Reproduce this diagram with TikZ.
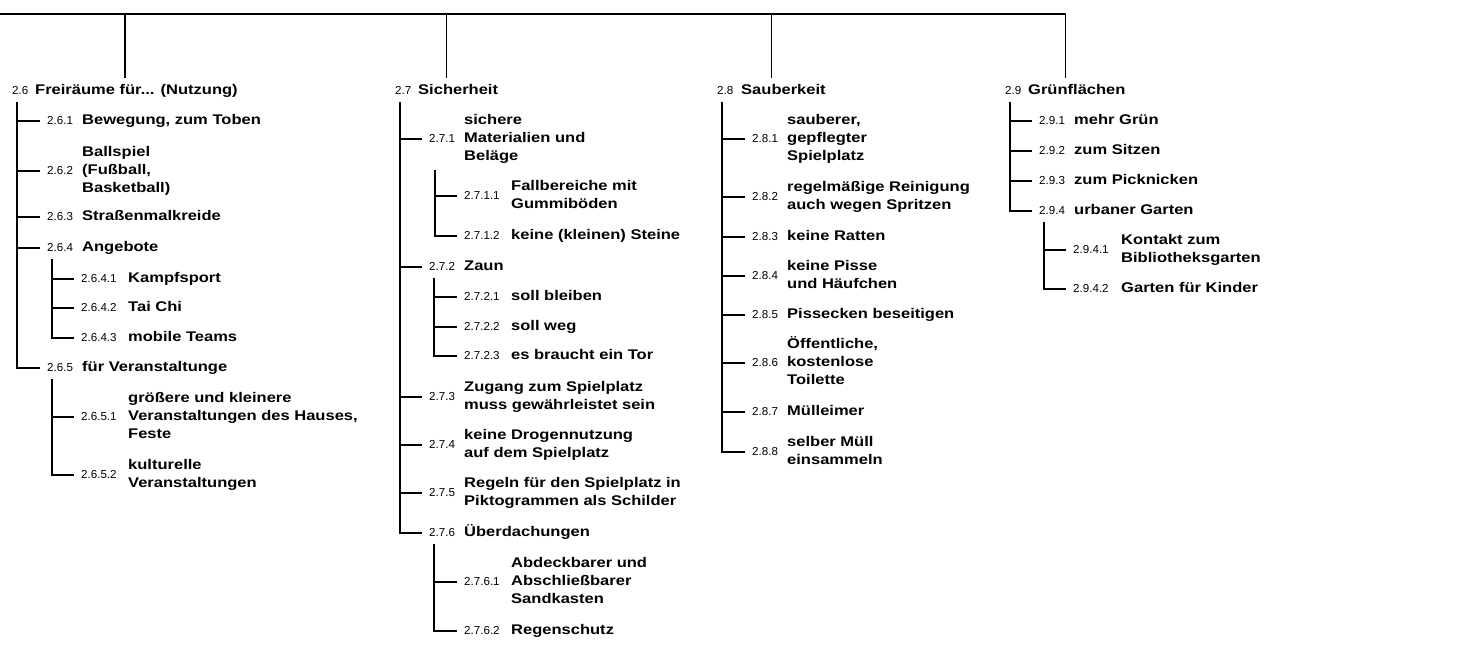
\documentclass[tikz,border=0pt]{standalone}
\usepackage{fontspec}
\usetikzlibrary{calc}
\newfontfamily\txtfont[FakeStretch=1.18]{Liberation Sans}
\newfontfamily\numfont[Scale=1.16]{Liberation Sans}
\newcommand\numsize{\numfont\fontsize{10}{18.3}\selectfont}
\newcommand\txtsize{\txtfont\bfseries\fontsize{14}{18.3}\selectfont}

% one outline entry: name, number x, text x, y, number, text
\newcommand\entry[6]{%
  \node[num] (n#1) at (#2,#4) {\numsize #5};
  \node[txt] (t#1) at (#3,#4) {\txtsize\begin{tabular}{@{}l@{}}#6\end{tabular}};}
% connector from a stem to the entry below it
\newcommand\branch[2]{\draw[link] (#1) |- ([xshift=-7pt]n#2.west);}

\begin{document}
\begin{tikzpicture}[x=1pt,y=-1pt,
  num/.style={anchor=west,inner sep=0pt,text height=12.81pt,text depth=5.49pt},
  txt/.style={anchor=west,inner sep=0pt},
  link/.style={line width=1.7pt,black}]
\useasboundingbox (0,0) rectangle (1461,653);

% ---------- 2.6 ----------
\entry{26}{12}{35}{91}{2.6}{Freiräume für... (Nutzung)}
\entry{261}{47}{82}{121}{2.6.1}{Bewegung, zum Toben}
\entry{262}{47}{82}{171}{2.6.2}{Ballspiel\\(Fußball,\\Basketball)}
\entry{263}{47}{82}{217}{2.6.3}{Straßenmalkreide}
\entry{264}{47}{82}{248}{2.6.4}{Angebote}
\entry{2641}{81}{128}{279}{2.6.4.1}{Kampfsport}
\entry{2642}{81}{128}{308}{2.6.4.2}{Tai Chi}
\entry{2643}{81}{128}{338}{2.6.4.3}{mobile Teams}
\entry{265}{47}{82}{368}{2.6.5}{für Veranstaltunge}
\entry{2651}{81}{128}{417}{2.6.5.1}{größere und kleinere\\Veranstaltungen des Hauses,\\Feste}
\entry{2652}{81}{128}{475}{2.6.5.2}{kulturelle\\Veranstaltungen}

% ---------- 2.7 ----------
\entry{27}{395}{418}{91}{2.7}{Sicherheit}
\entry{271}{429}{464}{139}{2.7.1}{sichere\\Materialien und\\Beläge}
\entry{2711}{464}{511}{196}{2.7.1.1}{Fallbereiche mit\\Gummiböden}
\entry{2712}{464}{511}{236}{2.7.1.2}{keine (kleinen) Steine}
\entry{272}{429}{464}{267}{2.7.2}{Zaun}
\entry{2721}{464}{511}{297}{2.7.2.1}{soll bleiben}
\entry{2722}{464}{511}{327}{2.7.2.2}{soll weg}
\entry{2723}{464}{511}{356}{2.7.2.3}{es braucht ein Tor}
\entry{273}{429}{464}{397}{2.7.3}{Zugang zum Spielplatz\\muss gewährleistet sein}
\entry{274}{429}{464}{445}{2.7.4}{keine Drogennutzung\\auf dem Spielplatz}
\entry{275}{429}{464}{493}{2.7.5}{Regeln für den Spielplatz in\\Piktogrammen als Schilder}
\entry{276}{429}{464}{533}{2.7.6}{Überdachungen}
\entry{2761}{464}{511}{582}{2.7.6.1}{Abdeckbarer und\\Abschließbarer\\Sandkasten}
\entry{2762}{464}{511}{631}{2.7.6.2}{Regenschutz}

% ---------- 2.8 ----------
\entry{28}{717}{741}{91}{2.8}{Sauberkeit}
\entry{281}{752}{787}{139}{2.8.1}{sauberer,\\gepflegter\\Spielplatz}
\entry{282}{752}{787}{197}{2.8.2}{regelmäßige Reinigung\\auch wegen Spritzen}
\entry{283}{752}{787}{237}{2.8.3}{keine Ratten}
\entry{284}{752}{787}{276}{2.8.4}{keine Pisse\\und Häufchen}
\entry{285}{752}{787}{315}{2.8.5}{Pissecken beseitigen}
\entry{286}{752}{787}{363}{2.8.6}{Öffentliche,\\kostenlose\\Toilette}
\entry{287}{752}{787}{412}{2.8.7}{Mülleimer}
\entry{288}{752}{787}{452}{2.8.8}{selber Müll\\einsammeln}

% ---------- 2.9 ----------
\entry{29}{1005}{1028}{91}{2.9}{Grünflächen}
\entry{291}{1039}{1074}{121}{2.9.1}{mehr Grün}
\entry{292}{1039}{1074}{151}{2.9.2}{zum Sitzen}
\entry{293}{1039}{1074}{181}{2.9.3}{zum Picknicken}
\entry{294}{1039}{1074}{211}{2.9.4}{urbaner Garten}
\entry{2941}{1073}{1121}{250}{2.9.4.1}{Kontakt zum\\Bibliotheksgarten}
\entry{2942}{1073}{1121}{289}{2.9.4.2}{Garten für Kinder}

% ---------- rail and drops to the four headings ----------
\coordinate (rail) at (0,14);
\foreach \h in {26,27,28,29}{
  \coordinate (d\h) at ($(n\h.west)!.5!(t\h.east)$);
  \draw[link] (rail) -| ([yshift=13pt]d\h);
}

% ---------- stems below each parent ----------
\foreach \p in {26,264,265,27,272,276,28,29,294}{
  \coordinate (s\p) at ([xshift=5pt,yshift=-11pt]n\p.west);
}
\coordinate (s271) at ([xshift=6pt,yshift=-31pt]n271.west);

% ---------- connectors ----------
\foreach \c in {261,262,263,264,265}{\branch{s26}{\c}}
\foreach \c in {2641,2642,2643}{\branch{s264}{\c}}
\foreach \c in {2651,2652}{\branch{s265}{\c}}
\foreach \c in {271,272,273,274,275,276}{\branch{s27}{\c}}
\foreach \c in {2711,2712}{\branch{s271}{\c}}
\foreach \c in {2721,2722,2723}{\branch{s272}{\c}}
\foreach \c in {2761,2762}{\branch{s276}{\c}}
\foreach \c in {281,282,283,284,285,286,287,288}{\branch{s28}{\c}}
\foreach \c in {291,292,293,294}{\branch{s29}{\c}}
\foreach \c in {2941,2942}{\branch{s294}{\c}}
\end{tikzpicture}
\end{document}
